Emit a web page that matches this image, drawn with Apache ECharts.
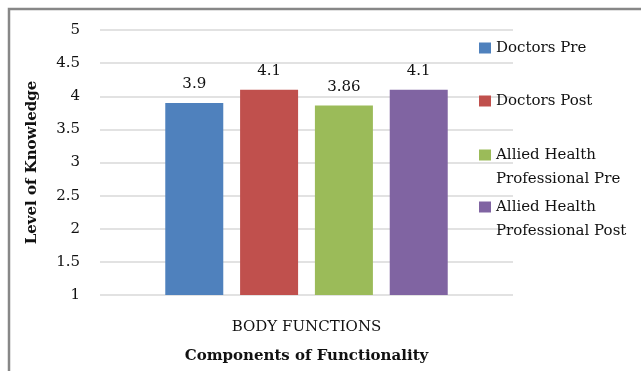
<!DOCTYPE html>
<html>
<head>
<meta charset="utf-8">
<script src="https://cdn.jsdelivr.net/npm/echarts@6/dist/echarts.min.js"></script>
<style>
html,body{margin:0;padding:0;background:#fff;}
#chart{width:641px;height:371px;}
</style>
</head>
<body>
<div id="chart"></div>
<script>
const categories = ['BODY FUNCTIONS'];
const seriesNames = ['Doctors Pre', 'Doctors Post', 'Allied Health Professional Pre', 'Allied Health Professional Post'];
const legendLabels = ['Doctors Pre', 'Doctors Post', ' \nAllied Health\nProfessional Pre', ' \nAllied Health\nProfessional Post'];
const doctorsPre = [3.9];
const doctorsPost = [4.1];
const alliedPre = [3.86];
const alliedPost = [4.1];
const colors = ['#4F81BD', '#C0504D', '#9BBB59', '#8064A2'];
const yTicks = { min: 1, max: 5, interval: 0.5 };

const FONT = 'DejaVu Serif';
const values = [doctorsPre, doctorsPost, alliedPre, alliedPost];
const legendTops = [36, 89, 119, 171];

const chart = echarts.init(document.getElementById('chart'), null, { renderer: 'canvas' });

const legends = seriesNames.map((name, i) => ({
  orient: 'vertical',
  left: 479,
  top: legendTops[i],
  padding: 0,
  data: [name],
  itemWidth: 12,
  itemHeight: 11,
  itemGap: 4,
  icon: 'rect',
  selectedMode: false,
  formatter: () => legendLabels[i],
  textStyle: {
    fontFamily: FONT,
    fontSize: 15,
    color: '#111',
    lineHeight: 24
  }
}));

const series = seriesNames.map((name, i) => ({
  name: name,
  type: 'bar',
  data: values[i],
  barWidth: 58,
  barGap: '29%',
  itemStyle: { color: colors[i] },
  label: {
    show: true,
    position: 'top',
    distance: 11,
    fontFamily: FONT,
    fontSize: 15,
    color: '#111'
  }
}));

chart.setOption({
  animation: false,
  backgroundColor: '#fff',
  grid: { left: 100, right: 128, top: 30, bottom: 76 },
  legend: legends,
  graphic: [{
    type: 'rect',
    shape: { x: 9, y: 9, width: 700, height: 500 },
    style: { fill: 'none', stroke: '#878787', lineWidth: 2.5 },
    silent: true
  }],
  xAxis: {
    type: 'category',
    data: categories,
    axisLine: { show: false },
    axisTick: { show: false },
    axisLabel: { fontFamily: FONT, fontSize: 15, color: '#111', margin: 25 },
    name: 'Components of Functionality',
    nameLocation: 'middle',
    nameGap: 54,
    nameTextStyle: { fontFamily: FONT, fontSize: 15, fontWeight: 'bold', color: '#111', verticalAlign: 'top' }
  },
  yAxis: {
    type: 'value',
    min: yTicks.min,
    max: yTicks.max,
    interval: yTicks.interval,
    axisLine: { show: false },
    axisTick: { show: false },
    splitLine: { show: true, lineStyle: { color: '#d9d9d9', width: 1.5 } },
    axisLabel: { fontFamily: FONT, fontSize: 15, color: '#111', margin: 20 },
    name: 'Level of Knowledge',
    nameLocation: 'middle',
    nameRotate: 90,
    nameGap: 60,
    nameTextStyle: { fontFamily: FONT, fontSize: 15, fontWeight: 'bold', color: '#111' }
  },
  series: series
});
</script>
</body>
</html>
